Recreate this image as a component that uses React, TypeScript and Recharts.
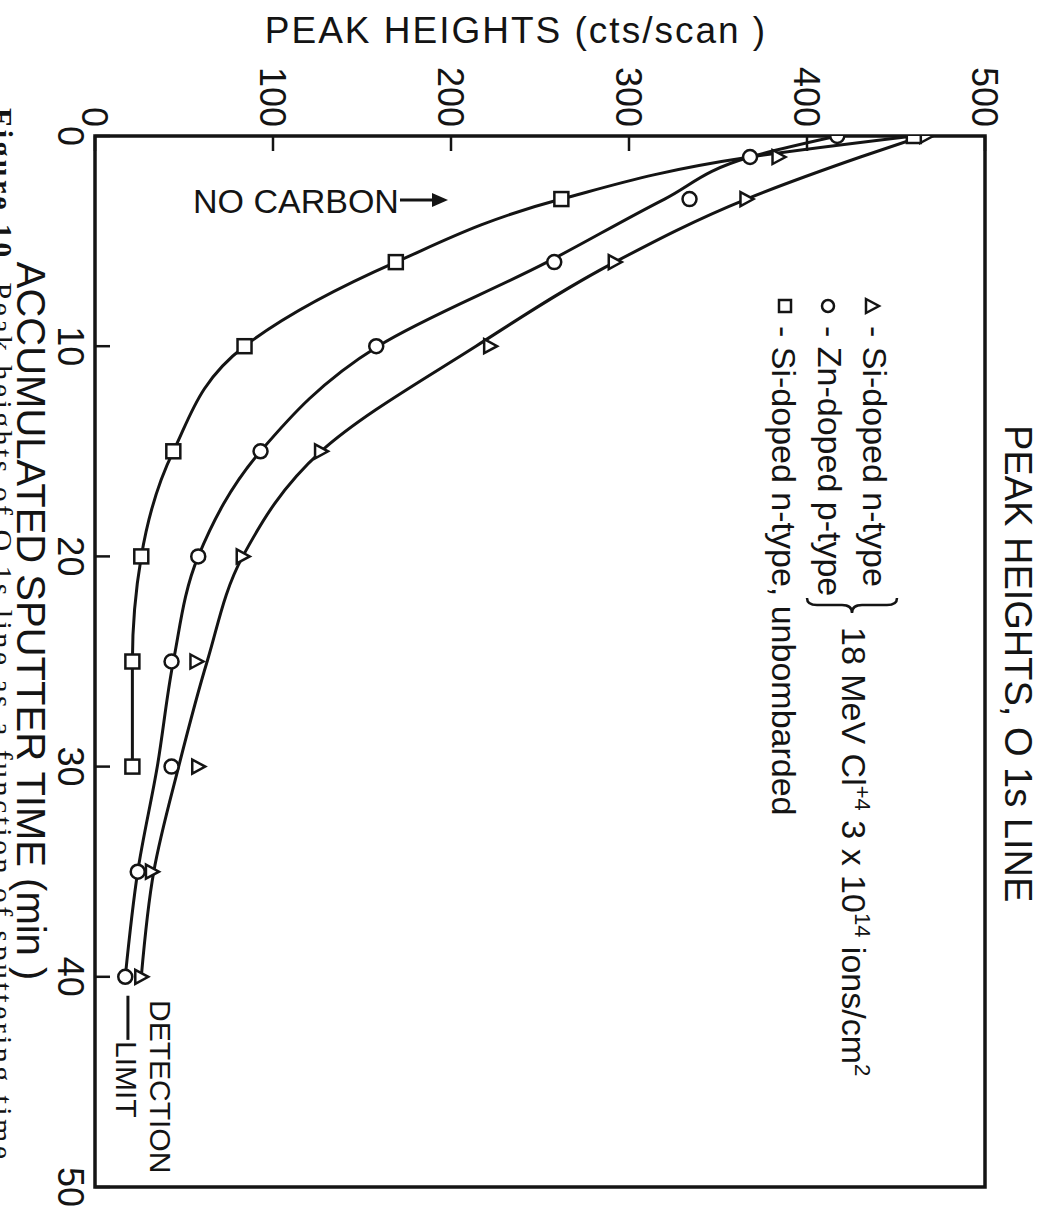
import React from 'react';
import { ComposedChart, Line, XAxis, YAxis, ReferenceArea, ReferenceLine } from 'recharts';

const W = 1057;
const H = 1217;

// axis ticks
const peakTicks = [0, 100, 200, 300, 400, 500];
const timeTicks = [0, 10, 20, 30, 40, 50];

// measured points (time in min, peak height in cts/scan)
const triTimes = [0, 1, 3, 6, 10, 15, 20, 25, 30, 35, 40];
const triValues = [467, 384, 366, 292, 222, 127, 83, 57, 58, 32, 26];

const circTimes = [0, 1, 3, 6, 10, 15, 20, 25, 30, 35, 40];
const circValues = [417, 368, 334, 258, 158, 93, 58, 43, 43, 24, 17];

const sqTimes = [0, 3, 6, 10, 15, 20, 25, 30];
const sqValues = [460, 262, 169, 84, 44, 26, 21, 21];

// hand-drawn fitted curves
const triCurveTimes = [0, 1, 3, 6, 10, 15, 20, 25, 30, 35, 40];
const triCurveValues = [465, 430, 366, 292, 214, 127, 83, 63, 47, 33, 26];

const circCurveTimes = [0, 1, 3, 6, 10, 15, 20, 25, 30, 35, 40];
const circCurveValues = [417, 368, 320, 254, 159, 93, 58, 44, 35, 24, 17];

const sqCurveTimes = [0, 1, 3, 6, 10, 15, 20, 25, 30];
const sqCurveValues = [460, 368, 262, 169, 84, 44, 26, 21, 21];

const detectionLimit = 18.5;

const rows = (ts: number[], vs: number[]) => ts.map((t, i) => ({ t, v: vs[i] }));

const INK = '#141414';
const SANS = '"Liberation Sans", Arial, sans-serif';
const SERIF = '"Liberation Serif", "Times New Roman", serif';

function PeakTick(props: any) {
  const { x, y, payload } = props;
  const bx = x - 13;
  const by = y - 9;
  return (
    <g>
      <line x1={x} y1={y} x2={x} y2={y + 15} stroke={INK} strokeWidth={2.5} />
      <text x={bx} y={by} transform={`rotate(90, ${bx}, ${by})`} textAnchor="end" fontSize={36} fontFamily={SANS} fill={INK}>
        {payload.value}
      </text>
    </g>
  );
}

function TimeTick(props: any) {
  const { x, y, payload } = props;
  const bx = x - 37;
  return (
    <g>
      <line x1={x} y1={y} x2={x + 15} y2={y} stroke={INK} strokeWidth={2.5} />
      <text x={bx} y={y} transform={`rotate(90, ${bx}, ${y})`} textAnchor="middle" fontSize={36} fontFamily={SANS} fill={INK}>
        {payload.value}
      </text>
    </g>
  );
}

const triDot = (p: any) => {
  const { cx, cy, index } = p;
  if (cx == null || cy == null) return <g key={`t${index}`} />;
  return (
    <path key={`t${index}`} d={`M${cx - 6},${cy - 7} L${cx + 7},${cy} L${cx - 6},${cy + 7} Z`} fill="#fff" stroke={INK} strokeWidth={2.5} />
  );
};
const circDot = (p: any) => {
  const { cx, cy, index } = p;
  if (cx == null || cy == null) return <g key={`c${index}`} />;
  return <circle key={`c${index}`} cx={cx} cy={cy} r={7} fill="#fff" stroke={INK} strokeWidth={2.5} />;
};
const sqDot = (p: any) => {
  const { cx, cy, index } = p;
  if (cx == null || cy == null) return <g key={`s${index}`} />;
  return <rect key={`s${index}`} x={cx - 7} y={cy - 7} width={14} height={14} fill="#fff" stroke={INK} strokeWidth={2.5} />;
};

function rot(x: number, y: number) {
  return `rotate(90, ${x}, ${y})`;
}

function Overlay() {
  return (
    <svg width={W} height={H} style={{ position: 'absolute', left: 0, top: 0, pointerEvents: 'none' }}>
      {/* top axis title */}
      <text x={516} y={43} textAnchor="middle" fontSize={37} letterSpacing={2} fontFamily={SANS} fill={INK}>
        PEAK HEIGHTS (cts/scan )
      </text>
      {/* left axis title */}
      <text x={17} y={621} transform={rot(17, 621)} textAnchor="middle" fontSize={40} fontFamily={SANS} fill={INK}>
        ACCUMULATED SPUTTER TIME (min )
      </text>
      {/* right title */}
      <text x={1005} y={425} transform={rot(1005, 425)} textAnchor="start" fontSize={38} fontFamily={SANS} fill={INK}>
        PEAK HEIGHTS, O 1s LINE
      </text>
      {/* caption cut at left edge, as in the scanned page */}
      <text x={-8} y={108} transform={rot(-8, 108)} fontSize={30} fontFamily={SERIF} fill={INK} textLength={1062} lengthAdjust="spacing">
        <tspan fontWeight="bold">Figure 10.</tspan> Peak heights of O 1s line as a function of sputtering time.
      </text>
      {/* NO CARBON */}
      <text x={193} y={213} fontSize={34} fontFamily={SANS} fill={INK}>NO CARBON</text>
      <line x1={400} y1={200} x2={436} y2={200} stroke={INK} strokeWidth={3} />
      <path d="M432,193 L448,200 L432,207 Z" fill={INK} />
      {/* legend */}
      <path d="M866,299 L879,306 L866,313 Z" fill="none" stroke={INK} strokeWidth={2.5} />
      <text x={863} y={326} transform={rot(863, 326)} fontSize={34} fontFamily={SANS} fill={INK}>- Si-doped n-type</text>
      <circle cx={828} cy={306} r={6} fill="none" stroke={INK} strokeWidth={2.5} />
      <text x={818} y={326} transform={rot(818, 326)} fontSize={34} fontFamily={SANS} fill={INK}>- Zn-doped p-type</text>
      <rect x={779} y={300} width={12} height={12} fill="none" stroke={INK} strokeWidth={2.5} />
      <text x={772} y={326} transform={rot(772, 326)} fontSize={34} fontFamily={SANS} fill={INK}>- Si-doped n-type, unbombarded</text>
      <path d="M897,598 Q897,605 887,605 L862,605 Q852,605 852,613 Q852,605 842,605 L817,605 Q807,605 807,598" fill="none" stroke={INK} strokeWidth={2.5} />
      <text x={842} y={627} transform={rot(842, 627)} fontSize={34} fontFamily={SANS} fill={INK}>
        18 MeV  Cl<tspan fontSize={22} dy={-13}>+4</tspan>
        <tspan dy={13}> 3 x 10</tspan>
        <tspan fontSize={22} dy={-13}>14</tspan>
        <tspan dy={13}> ions/cm</tspan>
        <tspan fontSize={22} dy={-13}>2</tspan>
      </text>
      {/* detection limit */}
      <text x={150} y={1000} transform={rot(150, 1000)} fontSize={30} fontFamily={SANS} fill={INK}>DETECTION</text>
      <text x={116} y={1041} transform={rot(116, 1041)} fontSize={30} fontFamily={SANS} fill={INK}>LIMIT</text>
    </svg>
  );
}

export default function App() {
  return (
    <div style={{ position: 'absolute', left: 0, top: 0, width: W, height: H, background: '#fff' }}>
      <ComposedChart
        width={W}
        height={H}
        layout="vertical"
        margin={{ top: 106, right: 72, bottom: 30, left: 35 }}
      >
        <XAxis
          type="number"
          orientation="top"
          domain={[0, 500]}
          ticks={peakTicks}
          height={30}
          axisLine={false}
          tickLine={false}
          tickSize={0}
          tickMargin={0}
          tick={<PeakTick />}
          interval={0}
          allowDataOverflow
        />
        <YAxis
          type="number"
          dataKey="t"
          domain={[0, 50]}
          ticks={timeTicks}
          width={60}
          axisLine={false}
          tickLine={false}
          tickSize={0}
          tickMargin={0}
          tick={<TimeTick />}
          interval={0}
          allowDataOverflow
        />
        <ReferenceArea x1={0} x2={500} y1={0} y2={50} fill="none" fillOpacity={0} stroke={INK} strokeWidth={3.5} ifOverflow="visible" />
        <ReferenceLine
          segment={[{ x: detectionLimit, y: 40.9 }, { x: detectionLimit, y: 43 }]}
          stroke={INK}
          strokeWidth={3}
          ifOverflow="visible"
        />
        <Line data={rows(triCurveTimes, triCurveValues)} dataKey="v" type="monotone" stroke={INK} strokeWidth={3} dot={false} activeDot={false} isAnimationActive={false} />
        <Line data={rows(circCurveTimes, circCurveValues)} dataKey="v" type="monotone" stroke={INK} strokeWidth={3} dot={false} activeDot={false} isAnimationActive={false} />
        <Line data={rows(sqCurveTimes, sqCurveValues)} dataKey="v" type="monotone" stroke={INK} strokeWidth={3} dot={false} activeDot={false} isAnimationActive={false} />
        <Line data={rows(triTimes, triValues)} dataKey="v" stroke="none" dot={triDot} activeDot={false} isAnimationActive={false} />
        <Line data={rows(circTimes, circValues)} dataKey="v" stroke="none" dot={circDot} activeDot={false} isAnimationActive={false} />
        <Line data={rows(sqTimes, sqValues)} dataKey="v" stroke="none" dot={sqDot} activeDot={false} isAnimationActive={false} />
      </ComposedChart>
      <Overlay />
    </div>
  );
}
